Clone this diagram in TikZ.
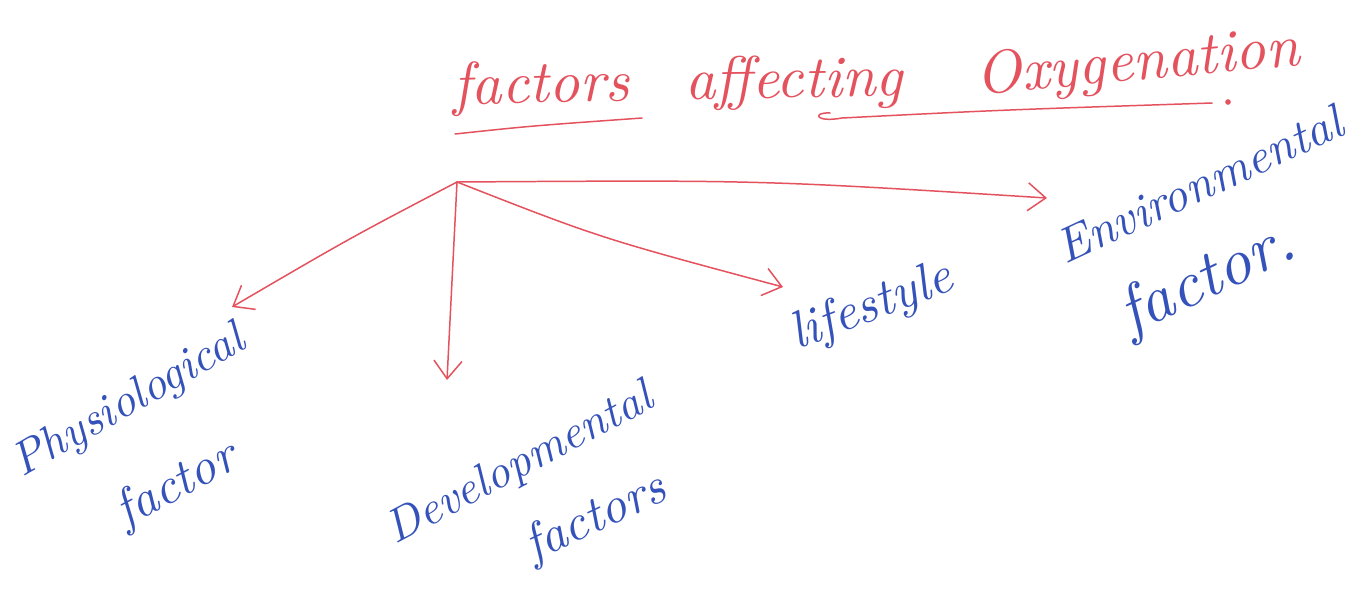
\documentclass[tikz,border=0pt]{standalone}
\usepackage{graphicx}
\usetikzlibrary{arrows.meta}
\definecolor{penred}{RGB}{228,82,94}
\definecolor{penblue}{RGB}{52,82,185}
\newcommand{\fitw}[2]{\resizebox{#1}{!}{#2}}
\begin{document}
\begin{tikzpicture}[x=0.02cm,y=-0.02cm,
  redpen/.style={draw=penred, line width=0.85pt, line cap=round, line join=round},
  arr/.style={redpen, -{Straight Barb[length=3.6mm,width=5.6mm,line width=0.85pt]}},
  bluetxt/.style={text=penblue, inner sep=0pt, anchor=base west, font=\itshape},
  redtxt/.style={text=penred, inner sep=0pt, anchor=base west, font=\itshape}]
\useasboundingbox (0,0) rectangle (1364,599);
\fill[white] (0,0) rectangle (1364,599);

% title
\node[redtxt, rotate=1.5] (tfac) at (453,105) {\fitw{3.54cm}{factors}};
\node[redtxt, rotate=0.8] (taff) at (685,99) {\fitw{4.36cm}{affecting}};
\node[redtxt, rotate=5.3] (toxy) at (977,95) {\fitw{6.5cm}{Oxygenation}};

% underlines
\coordinate (u1a) at (455,134);
\coordinate (u1b) at (642,118);
\coordinate (u2a) at (830,113);
\coordinate (u2b) at (1212,103);
\draw[redpen] (u1a) .. controls (530,126) .. (u1b);
\draw[redpen] (u2a) .. controls (812,112) and (815,123) .. (842,118) .. controls (1000,110) .. (u2b);
\fill[penred] (1228,102) circle[radius=1.6pt];

% labels
\node[bluetxt, rotate=30] (phys) at (22,478) {\fitw{5.2cm}{Physiological}};
\node[bluetxt, rotate=28] (physf) at (125,528) {\fitw{2.6cm}{factor}};
\node[bluetxt, rotate=28] (dev) at (395,545) {\fitw{5.9cm}{Developmental}};
\node[bluetxt, rotate=25] (devf) at (533,562) {\fitw{3.0cm}{factors}};
\node[bluetxt, rotate=21] (life) at (797,350) {\fitw{3.4cm}{lifestyle}};
\node[bluetxt, rotate=25] (env) at (1065,265) {\fitw{6.2cm}{Environmental}};
\node[bluetxt, rotate=25] (envf) at (1130,335) {\fitw{3.75cm}{factor.}};

% arrows
\coordinate (hub) at (457,182);
\coordinate (tphys) at (232,307);
\coordinate (tdev) at (447,380);
\coordinate (tlife) at (783,287);
\coordinate (tenv) at (1047,198);
\draw[arr] (hub) .. controls (350,238) .. (tphys);
\draw[arr] (hub) -- (tdev);
\draw[arr] (hub) .. controls (600,238) .. (tlife);
\draw[arr] (hub) .. controls (760,180) .. (tenv);
\end{tikzpicture}
\end{document}
